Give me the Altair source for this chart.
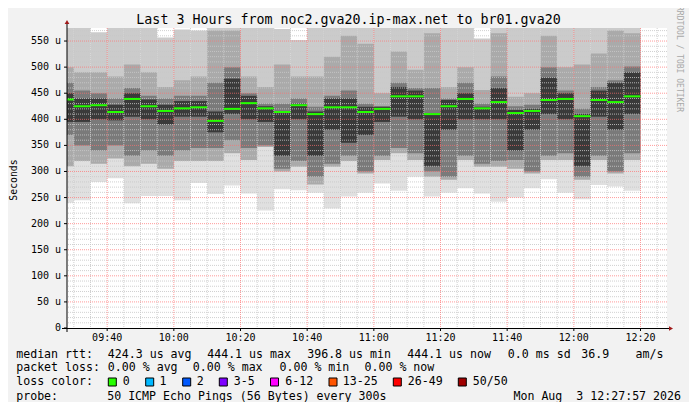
import altair as alt
import pandas as pd

# ---------------- data ----------------
bin_end = ["09:30", "09:35", "09:40", "09:45", "09:50", "09:55", "10:00", "10:05",
           "10:10", "10:15", "10:20", "10:25", "10:30", "10:35", "10:40", "10:45",
           "10:50", "10:55", "11:00", "11:05", "11:10", "11:15", "11:20", "11:25",
           "11:30", "11:35", "11:40", "11:45", "11:50", "11:55", "12:00", "12:05",
           "12:10", "12:15", "12:20"]

median = [438, 425, 427, 414, 439, 425, 416, 421, 423, 397, 420,
          431, 421, 414, 427, 410, 423, 423, 414, 420, 444,
          444, 410, 425, 439, 421, 433, 412, 416, 437, 439,
          406, 437, 433, 444]
pmax = [575, 575, 567, 575, 575, 575, 557, 572, 570, 575, 575,
        575, 575, 573, 552, 575, 575, 575, 575, 575, 575,
        575, 575, 575, 575, 555, 575, 575, 575, 575, 575,
        575, 575, 575, 575]
p90 = [500, 490, 490, 482, 505, 490, 462, 475, 482, 570, 570,
       482, 462, 505, 482, 482, 520, 560, 545, 450, 530,
       495, 565, 462, 500, 456, 565, 443, 450, 560, 500,
       505, 526, 570, 565]
p75 = [470, 455, 450, 440, 460, 445, 440, 445, 445, 470, 500,
       450, 430, 430, 440, 424, 445, 455, 430, 425, 470,
       460, 460, 440, 470, 430, 482, 425, 428, 500, 455,
       420, 462, 475, 501]
p60 = [450, 440, 440, 428, 450, 438, 428, 435, 435, 415, 478,
       445, 425, 415, 430, 415, 440, 440, 424, 424, 462,
       455, 412, 437, 450, 424, 460, 418, 420, 480, 450,
       410, 455, 470, 490]
p40 = [395, 395, 400, 398, 405, 400, 390, 405, 405, 375, 410,
       400, 395, 330, 400, 330, 380, 355, 370, 395, 405,
       400, 310, 380, 400, 400, 400, 340, 380, 410, 400,
       310, 405, 380, 410]
p25 = [370, 350, 340, 350, 330, 340, 330, 340, 345, 345, 360,
       345, 350, 305, 320, 290, 315, 330, 300, 330, 345,
       335, 300, 290, 330, 315, 320, 322, 300, 330, 335,
       290, 330, 300, 335]
p10 = [310, 320, 315, 325, 310, 315, 305, 320, 320, 320, 335,
       322, 347, 300, 309, 275, 309, 320, 296, 322, 335,
       322, 290, 284, 322, 309, 309, 305, 296, 322, 322,
       284, 322, 296, 322]
pmin = [240, 245, 280, 287, 239, 253, 253, 245, 278, 257, 273,
        258, 225, 266, 264, 259, 229, 252, 259, 277, 263,
        290, 252, 259, 268, 258, 242, 250, 268, 285, 259,
        247, 274, 271, 263]

x_tick_values = [40, 60, 80, 100, 120, 140, 160, 180, 200]   # minutes after 09:00
x_tick_labels = ["09:40", "10:00", "10:20", "10:40", "11:00", "11:20", "11:40", "12:00", "12:20"]
y_tick_values = [0, 50, 100, 150, 200, 250, 300, 350, 400, 450, 500, 550]
y_tick_labels = ["0\u00a0\u00a0", "50 u", "100 u", "150 u", "200 u", "250 u", "300 u",
                 "350 u", "400 u", "450 u", "500 u", "550 u"]

loss_labels = ["0", "1", "2", "3-5", "6-12", "13-25", "26-49", "50/50"]
loss_colors = ["#26ff00", "#00b8ff", "#0059ff", "#7e00ff", "#ff00ff", "#ff5500", "#ff0000", "#a10000"]

title_text = "Last 3 Hours from noc2.gva20.ip-max.net to br01.gva20"

# ---------------- tables ----------------
def to_min(s):
    h, m = s.split(":")
    return int(h) * 60 + int(m) - 540

ends = [to_min(s) for s in bin_end]
starts = [e - 5 for e in ends]

rows = []
levels = [("l0a", pmin, median), ("l0b", median, pmax),
          ("l1", p10, p90), ("l2", p25, p75), ("l3", p40, p60)]
for lvl, lo_arr, hi_arr in levels:
    for i in range(len(ends)):
        rows.append({"start": starts[i], "end": ends[i], "lo": lo_arr[i], "hi": hi_arr[i], "shade": lvl})
smoke_df = pd.DataFrame(rows)
med_df = pd.DataFrame({"start": starts, "end": ends, "median": median})

x_minor = [m for m in range(30, 210, 5) if m % 20 != 0]
x_major = [m for m in range(40, 210, 20)]
y_minor = [v for v in range(10, 580, 10) if v % 50 != 0]
y_major = [v for v in range(50, 580, 50)]

X0, Y0 = 67, 28  # plot origin (absolute pixels in the reference)

xs = alt.Scale(domain=[27.95, 207.95], nice=False, zero=False)
ys = alt.Scale(domain=[0, 575], nice=False, zero=False)

MONO = "DejaVu Sans Mono"

smoke = alt.Chart(smoke_df).mark_rect(clip=True, strokeWidth=0).encode(
    x=alt.X("start:Q", scale=xs, axis=None), x2="end:Q",
    y=alt.Y("lo:Q", scale=ys, axis=None), y2="hi:Q",
    color=alt.Color("shade:N", scale=alt.Scale(domain=["l0a", "l0b", "l1", "l2", "l3"],
                                               range=["#e0e0e0", "#cbcbcb", "#aaaaaa", "#7a7a7a", "#3a3a3a"]),
                    legend=None),
)

grid_minor_x = alt.Chart(pd.DataFrame({"m": x_minor})).mark_rule(
    strokeDash=[1, 1], color="#c8c8c8", strokeWidth=1, opacity=0.85).encode(
    x=alt.X("m:Q", scale=xs, axis=None))
grid_major_x = alt.Chart(pd.DataFrame({"m": x_major})).mark_rule(
    strokeDash=[1, 1], color="#ff7070", strokeWidth=1, opacity=0.7).encode(
    x=alt.X("m:Q", scale=xs, axis=None))
grid_minor_y = alt.Chart(pd.DataFrame({"v": y_minor})).mark_rule(
    strokeDash=[1, 1], color="#c8c8c8", strokeWidth=1, opacity=0.85).encode(
    y=alt.Y("v:Q", scale=ys, axis=None))
grid_major_y = alt.Chart(pd.DataFrame({"v": y_major})).mark_rule(
    strokeDash=[1, 1], color="#ff7070", strokeWidth=1, opacity=0.7).encode(
    y=alt.Y("v:Q", scale=ys, axis=None))

med = alt.Chart(med_df).mark_rule(clip=True, color="#26ff00", strokeWidth=2).encode(
    x=alt.X("start:Q", scale=xs, axis=None), x2="end:Q",
    y=alt.Y("median:Q", scale=ys, axis=None))

# tick labels and ticks, placed through the scales
xlab_df = pd.DataFrame({"v": x_tick_values, "t": x_tick_labels})
ylab_df = pd.DataFrame({"v": y_tick_values, "t": y_tick_labels})
x_labels = alt.Chart(xlab_df).mark_text(font=MONO, fontSize=10, align="center", baseline="middle", color="#000000").encode(
    x=alt.X("v:Q", scale=xs, axis=None), y=alt.value(338 - Y0), text="t:N")
y_labels = alt.Chart(ylab_df).mark_text(font=MONO, fontSize=10, align="right", baseline="middle", color="#000000").encode(
    y=alt.Y("v:Q", scale=ys, axis=None), x=alt.value(61 - X0), text="t:N")
x_ticks = alt.Chart(xlab_df).mark_rule(color="#000000", strokeWidth=1).encode(
    x=alt.X("v:Q", scale=xs, axis=None), y=alt.value(300), y2=alt.value(303))
y_ticks = alt.Chart(ylab_df).mark_rule(color="#000000", strokeWidth=1).encode(
    y=alt.Y("v:Q", scale=ys, axis=None), x=alt.value(-3), x2=alt.value(0))

one = pd.DataFrame({"a": [0]})
xaxis_line = alt.Chart(one).mark_rule(color="#000000", strokeWidth=1).encode(
    x=alt.value(62 - X0), x2=alt.value(670 - X0), y=alt.value(328.5 - Y0))
yaxis_line = alt.Chart(one).mark_rule(color="#000000", strokeWidth=1).encode(
    x=alt.value(0), y=alt.value(22 - Y0), y2=alt.value(332 - Y0))
arrow_up = alt.Chart(one).mark_point(shape="triangle-up", filled=True, size=22, color="#a01818", opacity=1).encode(
    x=alt.value(0), y=alt.value(22 - Y0))
arrow_right = alt.Chart(one).mark_point(shape="triangle-right", filled=True, size=22, color="#a01818", opacity=1).encode(
    x=alt.value(671 - X0), y=alt.value(328.5 - Y0))

title = alt.Chart(one).mark_text(font=MONO, fontSize=13.3, align="center", baseline="alphabetic", color="#000000").encode(
    x=alt.value(348.5 - X0), y=alt.value(24 - Y0), text=alt.value(title_text))
ytitle = alt.Chart(one).mark_text(font=MONO, fontSize=9.8, align="center", baseline="middle", angle=270, color="#000000").encode(
    x=alt.value(13.5 - X0), y=alt.value(180 - Y0), text=alt.value("Seconds"))
brand = alt.Chart(one).mark_text(font=MONO, fontSize=8, align="left", baseline="middle", angle=90, color="#a8a8a8").encode(
    x=alt.value(679 - X0), y=alt.value(6 - Y0), text=alt.value("RRDTOOL / TOBI OETIKER"))

# legend / statistics text (layout positions in absolute pixels)
legend_texts = [
    ("median rtt:", 16.7, 354.5), ("424.3 us avg", 108.3, 354.5), ("444.1 us max", 207.7, 354.5),
    ("396.8 us min", 307.7, 354.5), ("444.1 us now", 407.7, 354.5), ("0.0 ms sd", 508.3, 354.5),
    ("36.9", 581.7, 354.5), ("am/s", 636, 354.5),
    ("packet loss:", 16.7, 368), ("0.00 % avg", 108.3, 368), ("0.00 % max", 193.3, 368),
    ("0.00 % min", 280, 368), ("0.00 % now", 365, 368),
    ("loss color:", 16.7, 382),
    ("probe:", 16.7, 397), ("50 ICMP Echo Pings (56 Bytes) every 300s", 107.7, 397),
]
sq_x = [108.3, 145.7, 182.7, 219.3, 270.5, 329, 393.3, 458.3]
lbl_x = [123.3, 160, 197.3, 234.3, 285.7, 343.3, 408.3, 473.3]
for lab, x in zip(loss_labels, lbl_x):
    legend_texts.append((lab, x, 382))

txt_df = pd.DataFrame({"t": [t[0] for t in legend_texts],
                       "px": [t[1] - X0 - 0.5 for t in legend_texts],
                       "py": [t[2] - Y0 for t in legend_texts]})
legend_txt = alt.Chart(txt_df).mark_text(font=MONO, fontSize=11.6, align="left", baseline="middle", color="#000000").encode(
    x=alt.X("px:Q", scale=None), y=alt.Y("py:Q", scale=None), text="t:N")

date_txt = alt.Chart(one).mark_text(font=MONO, fontSize=11.6, align="right", baseline="middle", color="#000000").encode(
    x=alt.value(681 - X0), y=alt.value(397 - Y0), text=alt.value("Mon Aug\u00a0\u00a03 12:27:57 2026"))

sq_df = pd.DataFrame({"lab": loss_labels,
                      "x1": [v - X0 for v in sq_x], "x2": [v - X0 + 8 for v in sq_x],
                      "y1": [378 - Y0] * len(sq_x), "y2": [386 - Y0] * len(sq_x)})
squares = alt.Chart(sq_df).mark_rect(stroke="#000000", strokeWidth=1).encode(
    x=alt.X("x1:Q", scale=None), x2="x2:Q", y=alt.Y("y1:Q", scale=None), y2="y2:Q",
    fill=alt.Fill("lab:N", scale=alt.Scale(domain=loss_labels, range=loss_colors), legend=None))

chart = alt.layer(
    smoke, grid_minor_x, grid_minor_y, grid_major_x, grid_major_y, med,
    xaxis_line, yaxis_line, x_ticks, y_ticks, arrow_up, arrow_right,
    x_labels, y_labels,
    title, ytitle, brand, legend_txt, date_txt, squares
).resolve_scale(color="independent").properties(
    width=600, height=300,
    autosize=alt.AutoSizeParams(type="none"),
    padding={"left": 59, "top": 20, "right": 22, "bottom": 74},
    background="#f2f2f2",
).configure_view(fill="#ffffff", stroke=None)

chart.save("out.html", embed_options={"renderer": "svg", "actions": False})
